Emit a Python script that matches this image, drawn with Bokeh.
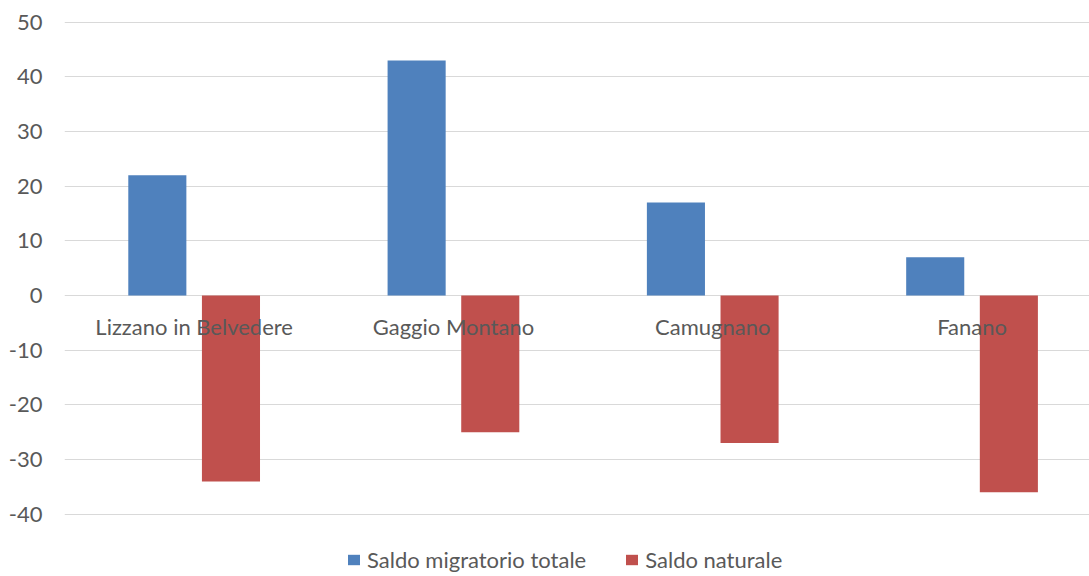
from bokeh.plotting import figure
from bokeh.models import Range1d, FixedTicker, ColumnDataSource, Legend, LegendItem, PrintfTickFormatter
from bokeh.core.properties import value
from bokeh.embed import file_html
from bokeh.resources import INLINE
import numpy as np

categories = ["Lizzano in Belvedere", "Gaggio Montano", "Camugnano", "Fanano"]
saldo_migratorio = [22, 43, 17, 7]
saldo_naturale = [-34, -25, -27, -36]
y_ticks = [-40, -30, -20, -10, 0, 10, 20, 30, 40, 50]

series_names = ["Saldo migratorio totale", "Saldo naturale"]
colors = ["#4F81BD", "#C0504D"]
text_color = "#595959"
FONT = "Lato"

idx = np.arange(len(categories)) + 0.5
src = ColumnDataSource(dict(
    cat=categories,
    xc=idx,
    x_m=idx - 0.142,
    x_n=idx + 0.142,
    m=saldo_migratorio,
    n=saldo_naturale,
    zero=[0] * len(categories),
))

p = figure(width=1089, height=576, output_backend="svg", toolbar_location=None,
           x_range=Range1d(0, 3.953), y_range=Range1d(-51.40, 53.97),
           x_axis_location=None,
           min_border_left=64, min_border_right=0, min_border_top=0, min_border_bottom=0)
p.outline_line_color = None
p.background_fill_color = "white"
p.border_fill_color = "white"
p.xgrid.visible = False
p.ygrid.grid_line_color = "#D9D9D9"
p.ygrid.grid_line_width = 1
p.yaxis.ticker = FixedTicker(ticks=y_ticks)
p.yaxis.formatter = PrintfTickFormatter(format="%d")
p.yaxis.axis_line_color = None
p.yaxis.major_tick_line_color = None
p.yaxis.minor_tick_line_color = None
p.yaxis.major_tick_out = 0
p.yaxis.major_tick_in = 0
p.yaxis.major_label_standoff = 22
p.yaxis.major_label_text_font = FONT
p.yaxis.major_label_text_font_size = "22px"
p.yaxis.major_label_text_color = text_color

r1 = p.vbar(x="x_m", top="m", bottom="zero", width=0.224, source=src,
            fill_color=colors[0], line_color=None)
r2 = p.vbar(x="x_n", top="zero", bottom="n", width=0.224, source=src,
            fill_color=colors[1], line_color=None)

p.text(x="xc", y="zero", text="cat", source=src, text_align="center",
       text_baseline="middle", y_offset=31, text_font=value(FONT),
       text_font_size="22px", text_color=text_color)

legend = Legend(items=[LegendItem(label=series_names[0], renderers=[r1]),
                       LegendItem(label=series_names[1], renderers=[r2])],
                orientation="horizontal", location=(282, 3),
                padding=0, margin=0, spacing=38, label_standoff=6,
                glyph_width=15, glyph_height=13,
                border_line_color=None, background_fill_alpha=0,
                label_text_font=FONT, label_text_font_size="22px",
                label_text_color=text_color)
p.add_layout(legend)

open("out.html", "w").write(file_html(p, INLINE))
